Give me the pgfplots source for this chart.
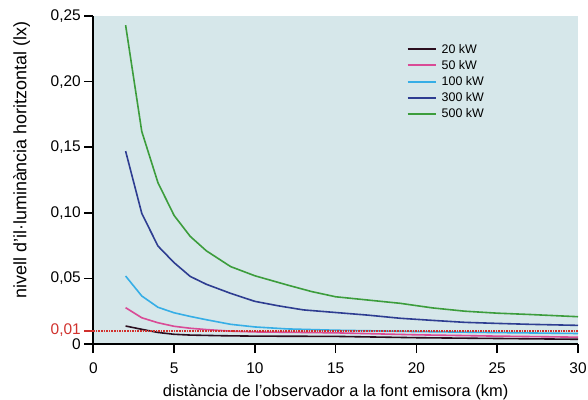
\documentclass[border=0pt]{standalone}
\usepackage{fontspec}
\setmainfont{Liberation Sans}
\usepackage{pgfplots}
\pgfplotsset{compat=1.18}
\definecolor{bgcol}{HTML}{D6E7EA}
\definecolor{cdark}{HTML}{2A0E1E}
\definecolor{cpink}{HTML}{D94B96}
\definecolor{clblue}{HTML}{36AEE6}
\definecolor{cblue}{HTML}{2E3D91}
\definecolor{cgreen}{HTML}{3C9D3C}
\definecolor{myred}{HTML}{D0312D}
\pgfplotsset{
  mylegimg/.style={legend image code/.code={\draw[#1, line width=2bp] (0bp,0bp) -- (28bp,0bp);}},
}
\begin{document}
\begin{tikzpicture}
\begin{axis}[
  at={(0,0)}, anchor=south west,
  scale only axis, width=484.7bp, height=328bp,
  xmin=0, xmax=30, ymin=0, ymax=0.25,
  axis x line=bottom, axis y line=left,
  axis line style={-, line width=2.2bp, black},
  axis background/.style={fill=bgcol},
  tick align=outside, major tick length=9bp,
  major tick style={line width=1.6bp, black},
  xtick={0,5,10,15,20,25,30},
  xticklabels={0,5,10,15,20,25,30},
  ytick={0,0.05,0.1,0.15,0.2,0.25},
  yticklabels={\raisebox{-1.5bp}{0},{0,05},{0,10},{0,15},{0,20},{0,25}},
  extra y ticks={0.01},
  extra y tick labels={0{,}01},
  extra y tick style={yticklabel style={text=myred, yshift=1bp}, major tick style={draw=myred, line width=1.6bp}},
  tick label style={font=\fontsize{15.5}{17}\selectfont},
  xticklabel style={yshift=-6bp},
  xlabel={distància de l’observador a la font emisora (km)},
  ylabel={nivell d’il·luminància horitzontal (lx)},
  xlabel style={font=\fontsize{16.5}{19}\selectfont, at={(axis description cs:0.5,-0.148)}, anchor=center},
  ylabel style={font=\fontsize{18}{20}\selectfont, at={(axis description cs:-0.148,0.561)}, anchor=center},
  legend style={at={(axis description cs:0.64,0.927)}, anchor=north west,
    draw=none, fill=none, font=\fontsize{12.5}{14}\selectfont,
    row sep=1.6bp, nodes={inner xsep=5bp}},
  legend cell align=left,
  mylegimg,
  clip=false,
]
\addplot[cdark, line width=1.6bp] coordinates {(2,0.0137)(3,0.0112)(4,0.0088)(5,0.0074)(6,0.0068)(8,0.0063)(10,0.0060)(15,0.0058)(20,0.0048)(25,0.0042)(30,0.0036)};
\addlegendentry{20 kW}
\addplot[cpink, line width=1.6bp] coordinates {(2,0.0277)(3,0.0200)(4,0.0162)(5,0.0135)(6,0.0120)(7,0.0110)(8.5,0.0098)(10,0.0092)(15,0.0085)(20,0.0070)(25,0.0060)(30,0.0052)};
\addlegendentry{50 kW}
\addplot[clblue, line width=1.6bp] coordinates {(2,0.0518)(3,0.0366)(4,0.0280)(5,0.0238)(6,0.0210)(7,0.0185)(8.5,0.0150)(10,0.0130)(12,0.0115)(15,0.0105)(20,0.0095)(25,0.0087)(30,0.0080)};
\addlegendentry{100 kW}
\addplot[cblue, line width=1.6bp] coordinates {(2,0.147)(3,0.0996)(4,0.0747)(5,0.0620)(6,0.0515)(7,0.0455)(8.5,0.0386)(10,0.0325)(11.5,0.0290)(13,0.0260)(15,0.0240)(17,0.0220)(19,0.0196)(21,0.0180)(23,0.0165)(25,0.0157)(27,0.0150)(30,0.0142)};
\addlegendentry{300 kW}
\addplot[cgreen, line width=1.6bp] coordinates {(2,0.243)(3,0.162)(4,0.123)(5,0.098)(6,0.082)(7,0.071)(8.5,0.059)(10,0.052)(12,0.045)(13.5,0.040)(15,0.036)(17,0.0335)(19,0.031)(21,0.0275)(23,0.025)(25,0.0235)(27,0.0225)(30,0.0208)};
\addlegendentry{500 kW}
\addplot[myred, densely dotted, line width=1.6bp, forget plot] coordinates {(0,0.01)(30,0.01)};
\end{axis}
\pgfresetboundingbox
\path[use as bounding box] (-93.3bp,-56bp) rectangle (494.7bp,344bp);
\end{tikzpicture}
\end{document}
